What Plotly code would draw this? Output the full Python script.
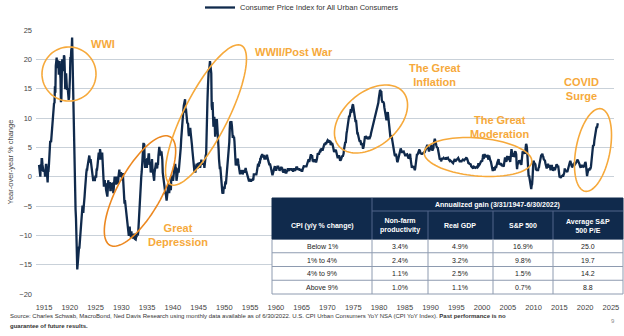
import math
import plotly.graph_objects as go

# ---------------- DATA (monthly CPI-U YoY %) ----------------
cpi_1914_1919 = [
    2.0, 1.0, 1.0, 0.0, 2.1, 1.0, 3.0, 3.0, 2.0, 1.0, 1.0, 1.0,
    1.0, 1.0, 0.0, 2.0, 2.0, 2.0, 1.0, -1.0, -1.0, 1.0, 1.0, 2.0,
    3.0, 4.0, 6.1, 6.0, 5.9, 6.9, 6.9, 7.9, 9.9, 10.8, 11.7, 12.6,
    12.5, 15.4, 14.3, 18.9, 19.6, 20.3, 18.5, 19.3, 19.8, 19.5, 17.4, 18.1,
    19.7, 17.9, 16.7, 12.7, 13.3, 17.5, 20.0, 18.5, 18.0, 18.5, 20.7, 20.4,
    17.9, 14.9, 17.1, 17.6, 16.5, 14.8, 15.0, 14.9, 13.5, 13.1, 13.5, 14.6,
]
cpi_1920s = [
    17.0, 20.4, 20.1, 21.6, 21.9, 23.7, 19.5, 14.7, 12.4, 9.9, 7.0, 2.6,
    -1.6, -5.6, -7.1, -10.8, -14.1, -15.8, -14.9, -12.8, -12.5, -12.1, -12.1, -10.8,
    -11.1, -8.2, -8.7, -7.7, -5.6, -5.1, -5.1, -6.2, -5.1, -4.6, -3.4, -2.3,
    -0.6, -0.6, 0.6, 1.2, 1.2, 1.8, 2.4, 3.0, 3.6, 3.6, 3.0, 2.4,
    3.0, 2.4, 1.8, 0.6, 0.6, 0.0, -0.6, -0.6, -0.6, -0.6, -0.6, 0.0,
    0.0, 0.0, 1.2, 1.2, 1.8, 2.9, 3.5, 4.1, 3.5, 2.9, 4.7, 3.5,
    3.5, 4.1, 2.9, 4.1, 2.9, 1.1, -1.1, -1.7, -1.1, -0.6, -1.7, -1.1,
    -2.2, -2.8, -2.8, -3.4, -2.2, -0.6, -1.1, -1.1, -1.1, -1.1, -2.3, -2.3,
    -1.1, -1.7, -1.2, -1.2, -1.1, -2.8, -1.2, -0.6, 0.0, -1.1, -0.6, -1.2,
    -1.2, 0.0, -0.6, -1.2, -1.2, 0.0, 1.2, 1.2, 0.0, 0.6, 0.6, 0.6,
]
cpi_1930s = [
    0.0, -0.6, -0.6, 0.6, -0.6, -1.8, -4.0, -4.6, -4.0, -4.6, -5.2, -6.4,
    -7.0, -7.6, -7.7, -8.8, -9.5, -10.1, -9.0, -8.5, -9.6, -9.7, -10.4, -9.3,
    -10.1, -10.2, -10.3, -10.3, -10.5, -9.9, -9.9, -10.6, -10.7, -10.7, -10.2, -10.3,
    -9.8, -9.9, -10.0, -9.4, -8.0, -6.6, -3.7, -2.2, -1.5, -0.8, 0.0, 0.8,
    2.3, 4.7, 5.6, 5.6, 5.6, 5.5, 2.3, 1.5, 3.0, 2.3, 2.3, 1.5,
    3.0, 3.0, 3.0, 3.8, 3.8, 2.2, 2.2, 2.2, 0.7, 1.5, 2.2, 3.0,
    1.5, 0.7, 0.0, -0.7, -0.7, 0.7, 1.5, 2.2, 2.2, 2.2, 1.4, 1.4,
    2.2, 2.2, 3.6, 4.4, 5.1, 4.3, 4.3, 3.6, 4.3, 4.3, 3.6, 2.9,
    0.7, 0.0, -0.7, -0.7, -2.1, -2.1, -2.8, -2.8, -3.4, -4.1, -3.4, -2.8,
    -1.4, -1.4, -1.4, -2.8, -2.1, -2.1, -2.1, -2.1, 0.0, 0.0, 0.0, 0.0,
]
cpi_1940s = [
    -0.7, 0.7, 0.7, 1.4, 1.4, 2.2, 1.4, 1.4, -0.7, 0.0, 0.0, 0.7,
    1.4, 0.7, 1.4, 2.1, 2.9, 4.3, 5.0, 6.4, 7.9, 9.3, 9.3, 9.9,
    11.3, 12.1, 12.7, 12.6, 13.2, 10.9, 11.6, 10.8, 9.2, 9.2, 9.1, 9.0,
    7.6, 6.9, 7.6, 8.3, 8.3, 7.5, 6.1, 5.4, 5.4, 4.5, 3.7, 3.0,
    2.2, 1.5, 0.7, 1.5, 0.7, 1.5, 2.2, 2.2, 1.5, 1.5, 2.2, 2.2,
    2.2, 2.2, 2.3, 1.5, 2.2, 2.9, 2.9, 2.2, 2.2, 2.2, 2.2, 2.2,
    2.2, 1.5, 2.9, 3.6, 3.6, 3.6, 9.3, 11.6, 12.7, 14.9, 17.7, 18.1,
    18.1, 18.8, 19.7, 19.0, 18.4, 17.6, 12.1, 11.4, 12.7, 10.6, 8.5, 8.8,
    10.2, 9.3, 6.8, 8.7, 9.1, 9.4, 9.8, 8.9, 6.5, 6.1, 4.8, 3.0,
    1.3, 1.3, 1.7, 0.4, -0.4, -0.8, -2.9, -2.9, -2.5, -2.9, -1.7, -2.1,
]
cpi_1950s = [
    -2.1, -1.3, -0.8, -1.3, -0.4, -0.4, 1.7, 2.1, 2.1, 3.8, 3.8, 5.9,
    8.1, 9.4, 9.3, 9.3, 9.3, 8.7, 7.5, 6.6, 7.0, 6.7, 6.8, 6.0,
    4.3, 2.3, 1.9, 2.3, 1.9, 2.3, 3.1, 3.1, 2.3, 1.9, 1.1, 0.8,
    0.4, 0.8, 1.1, 0.8, 1.1, 1.1, 0.4, 0.8, 0.8, 1.1, 0.8, 0.8,
    1.1, 1.5, 1.1, 0.8, 0.8, 0.4, 0.4, 0.0, -0.4, -0.8, -0.4, -0.7,
    -0.7, -0.7, -0.7, -0.4, -0.7, -0.7, -0.4, -0.4, 0.4, 0.4, 0.4, 0.4,
    0.4, 0.4, 0.4, 0.8, 1.1, 1.9, 2.2, 1.9, 1.9, 2.6, 2.2, 3.0,
    3.0, 3.4, 3.7, 3.7, 3.7, 3.3, 3.3, 3.7, 3.3, 2.9, 3.3, 2.9,
    3.6, 3.2, 3.6, 3.6, 3.2, 2.8, 2.4, 2.1, 2.1, 2.1, 2.1, 1.8,
    1.4, 1.1, 0.4, 0.4, 0.4, 0.7, 0.7, 1.1, 1.4, 1.8, 1.4, 1.7,
]
cpi_1960s = [
    1.0, 1.7, 1.4, 1.7, 1.7, 1.7, 1.4, 1.4, 1.0, 1.4, 1.4, 1.4,
    1.7, 1.4, 1.4, 1.0, 0.7, 0.7, 1.3, 1.0, 1.3, 0.7, 0.7, 0.7,
    0.7, 1.0, 1.0, 1.3, 1.3, 1.3, 1.0, 1.3, 1.3, 1.3, 1.3, 1.3,
    1.3, 1.0, 1.3, 1.0, 1.0, 1.3, 1.3, 1.3, 1.0, 1.3, 1.3, 1.6,
    1.6, 1.6, 1.3, 1.3, 1.3, 1.3, 1.3, 1.0, 1.3, 1.0, 1.3, 1.0,
    1.0, 1.0, 1.3, 1.6, 1.6, 1.9, 1.6, 1.9, 1.6, 1.9, 1.6, 1.9,
    1.9, 2.5, 2.5, 2.8, 2.8, 2.5, 2.8, 3.5, 3.5, 3.8, 3.5, 3.5,
    3.5, 2.8, 2.8, 2.5, 2.8, 2.8, 2.8, 2.5, 2.8, 2.4, 2.7, 3.0,
    3.7, 4.0, 3.9, 3.9, 3.9, 4.2, 4.5, 4.5, 4.4, 4.7, 4.7, 4.7,
    4.4, 4.7, 5.2, 5.5, 5.5, 5.5, 5.4, 5.7, 5.7, 5.7, 5.9, 6.2,
]
cpi_1970s = [
    6.2, 6.1, 5.8, 6.1, 6.1, 6.0, 6.0, 5.4, 5.7, 5.7, 5.6, 5.6,
    5.3, 5.0, 4.7, 4.2, 4.4, 4.6, 4.4, 4.6, 4.1, 3.8, 3.3, 3.3,
    3.3, 3.5, 3.5, 3.5, 3.2, 2.7, 2.9, 2.9, 3.2, 3.4, 3.6, 3.4,
    3.6, 3.9, 4.6, 5.1, 5.5, 5.9, 5.7, 7.4, 7.4, 7.8, 8.3, 8.7,
    9.4, 10.0, 10.4, 10.1, 10.7, 10.9, 11.5, 10.9, 11.9, 12.1, 12.2, 12.3,
    11.8, 11.2, 10.3, 10.2, 9.5, 9.3, 9.7, 8.6, 7.9, 7.4, 7.4, 6.9,
    6.7, 6.3, 6.1, 6.0, 6.2, 5.9, 5.4, 5.7, 5.5, 5.5, 4.9, 4.9,
    5.2, 6.0, 6.4, 6.9, 6.7, 6.9, 6.8, 6.6, 6.6, 6.4, 6.7, 6.7,
    6.8, 6.4, 6.6, 6.5, 7.0, 7.4, 7.7, 7.8, 8.3, 8.9, 8.9, 9.0,
    9.3, 9.9, 10.1, 10.5, 10.9, 10.9, 11.3, 11.8, 12.2, 12.1, 12.6, 13.3,
]
cpi_1980s = [
    13.9, 14.2, 14.8, 14.7, 14.4, 14.4, 13.1, 12.9, 12.6, 12.8, 12.6, 12.5,
    11.8, 11.4, 10.5, 10.0, 9.8, 9.6, 10.8, 10.8, 11.0, 10.1, 9.6, 8.9,
    8.4, 7.6, 6.8, 6.5, 6.7, 7.1, 6.4, 5.9, 5.0, 5.1, 4.6, 3.8,
    3.7, 3.5, 3.6, 3.9, 3.5, 2.6, 2.5, 2.6, 2.9, 2.9, 3.3, 3.8,
    4.2, 4.6, 4.8, 4.6, 4.2, 4.2, 4.2, 4.3, 4.3, 4.3, 4.1, 3.9,
    3.5, 3.5, 3.7, 3.7, 3.8, 3.8, 3.6, 3.3, 3.1, 3.2, 3.5, 3.8,
    3.9, 3.1, 2.2, 1.6, 1.5, 1.8, 1.6, 1.6, 1.8, 1.5, 1.3, 1.1,
    1.5, 2.1, 3.0, 3.8, 3.9, 3.7, 3.9, 4.3, 4.4, 4.5, 4.5, 4.4,
    4.0, 3.9, 3.9, 3.9, 3.9, 4.0, 4.1, 4.0, 4.2, 4.2, 4.2, 4.4,
    4.7, 4.8, 5.0, 5.1, 5.4, 5.2, 5.0, 4.7, 4.3, 4.5, 4.7, 4.6,
]
cpi_1990s = [
    5.2, 5.3, 5.2, 4.7, 4.4, 4.7, 4.8, 5.6, 6.2, 6.3, 6.3, 6.1,
    5.7, 5.3, 4.9, 4.9, 5.0, 4.7, 4.4, 3.8, 3.4, 2.9, 3.0, 3.1,
    2.6, 2.8, 3.2, 3.2, 3.0, 3.1, 3.2, 3.1, 3.0, 3.2, 3.1, 2.9,
    3.3, 3.2, 3.1, 3.2, 3.2, 3.0, 2.8, 2.8, 2.7, 2.8, 2.7, 2.7,
    2.5, 2.5, 2.5, 2.4, 2.3, 2.5, 2.8, 2.9, 3.0, 2.6, 2.7, 2.7,
    2.8, 2.9, 2.9, 3.1, 3.2, 3.0, 2.8, 2.6, 2.5, 2.8, 2.6, 2.5,
    2.7, 2.7, 2.8, 2.9, 2.9, 2.8, 3.0, 2.9, 3.0, 3.0, 3.3, 3.3,
    3.0, 3.0, 2.8, 2.5, 2.2, 2.3, 2.2, 2.2, 2.2, 2.1, 1.8, 1.7,
    1.6, 1.4, 1.4, 1.4, 1.7, 1.7, 1.7, 1.6, 1.5, 1.5, 1.5, 1.6,
    1.7, 1.6, 1.7, 2.3, 2.1, 2.0, 2.1, 2.3, 2.6, 2.6, 2.6, 2.7,
]
cpi_2000s = [
    2.7, 3.2, 3.8, 3.1, 3.2, 3.7, 3.7, 3.4, 3.5, 3.4, 3.4, 3.4,
    3.7, 3.5, 2.9, 3.3, 3.6, 3.2, 2.7, 2.7, 2.6, 2.1, 1.9, 1.6,
    1.1, 1.1, 1.5, 1.6, 1.2, 1.1, 1.5, 1.8, 1.5, 2.0, 2.2, 2.4,
    2.6, 3.0, 3.0, 2.2, 2.1, 2.1, 2.1, 2.2, 2.3, 2.0, 1.8, 1.9,
    1.9, 1.7, 1.7, 2.3, 3.1, 3.3, 3.0, 2.7, 2.5, 3.2, 3.5, 3.3,
    3.0, 3.0, 3.1, 3.5, 2.8, 2.5, 3.2, 3.6, 4.7, 4.3, 3.5, 3.4,
    4.0, 3.6, 3.4, 3.5, 4.2, 4.3, 4.1, 3.8, 2.1, 1.3, 2.0, 2.5,
    2.1, 2.4, 2.8, 2.6, 2.7, 2.7, 2.4, 2.0, 2.8, 3.5, 4.3, 4.1,
    4.3, 4.0, 4.0, 3.9, 4.2, 5.0, 5.6, 5.4, 4.9, 3.7, 1.1, 0.1,
    0.0, 0.2, -0.4, -0.7, -1.3, -1.4, -2.1, -1.5, -1.3, -0.2, 1.8, 2.7,
]
cpi_2010s = [
    2.6, 2.1, 2.3, 2.2, 2.0, 1.1, 1.2, 1.1, 1.1, 1.2, 1.1, 1.5,
    1.6, 2.1, 2.7, 3.2, 3.6, 3.6, 3.6, 3.8, 3.9, 3.5, 3.4, 3.0,
    2.9, 2.9, 2.7, 2.3, 1.7, 1.7, 1.4, 1.7, 2.0, 2.2, 1.8, 1.7,
    1.6, 2.0, 1.5, 1.1, 1.4, 1.8, 2.0, 1.5, 1.2, 1.0, 1.2, 1.5,
    1.6, 1.1, 1.5, 2.0, 2.1, 2.1, 2.0, 1.7, 1.7, 1.7, 1.3, 0.8,
    -0.1, 0.0, -0.1, -0.2, 0.0, 0.1, 0.2, 0.2, 0.0, 0.2, 0.5, 0.7,
    1.4, 1.0, 0.9, 1.1, 1.0, 1.0, 0.8, 1.1, 1.5, 1.6, 1.7, 2.1,
    2.5, 2.7, 2.4, 2.2, 1.9, 1.6, 1.7, 1.9, 2.2, 2.0, 2.2, 2.1,
    2.1, 2.2, 2.4, 2.5, 2.8, 2.9, 2.9, 2.7, 2.3, 2.5, 2.2, 1.9,
    1.6, 1.5, 1.9, 2.0, 1.8, 1.6, 1.8, 1.7, 1.7, 1.8, 2.1, 2.3,
]
cpi_2020_2022 = [
    2.5, 2.3, 1.5, 0.3, 0.1, 0.6, 1.0, 1.3, 1.4, 1.2, 1.2, 1.4,
    1.4, 1.7, 2.6, 4.2, 5.0, 5.4, 5.4, 5.3, 5.4, 6.2, 6.8, 7.0,
    7.5, 7.9, 8.5, 8.3, 8.6, 9.1,
]
start_year = 1914

x_ticks = list(range(1915, 2030, 5))

table_cpi_bands = ["Below 1%", "1% to 4%", "4% to 9%", "Above 9%"]
table_productivity = ["3.4%", "2.4%", "1.1%", "1.0%"]
table_real_gdp = ["4.9%", "3.2%", "2.5%", "1.1%"]
table_sp500 = ["16.9%", "9.8%", "1.5%", "0.7%"]
table_avg_pe = ["25.0", "19.7", "14.2", "8.8"]
table_headers = ["CPI (y/y % change)", "Non-farm<br>productivity", "Real GDP",
                 "S&P 500", "Average S&P<br>500 P/E"]
table_group_header = "Annualized gain (3/31/1947-6/30/2022)"

# ---------------- BUILD ----------------
cpi_yoy = (cpi_1914_1919 + cpi_1920s + cpi_1930s + cpi_1940s + cpi_1950s +
           cpi_1960s + cpi_1970s + cpi_1980s + cpi_1990s + cpi_2000s +
           cpi_2010s + cpi_2020_2022)
x_time = [start_year + (i + 0.5) / 12 for i in range(len(cpi_yoy))]

W, H = 624, 336
ML, MR, MT, MB = 36, 1, 30, 38
PW, PH = W - ML - MR, H - MT - MB
PLOT_R, PLOT_B = 614, 294
FONT = "Liberation Sans, Arial, sans-serif"
NAVY = "#102a4c"
ORANGE = "#F6A93B"
ORANGE_DK = "#EC8820"
SEP = "#50648a"
CELL_LINE = "#8e9bb0"


def fx(px):
    return (px - ML) / PW


def fy(py):
    return (H - MB - py) / PH


def ellipse_path(cx, cy, a, b, deg, n=90):
    th = math.radians(deg)
    pts = []
    for k in range(n):
        t = 2 * math.pi * k / n
        px = cx + a * math.cos(t) * math.cos(th) - b * math.sin(t) * math.sin(th)
        py = cy - (a * math.cos(t) * math.sin(th) + b * math.sin(t) * math.cos(th))
        pts.append(f"{fx(px):.5f},{fy(py):.5f}")
    return "M " + " L ".join(pts) + " Z"


fig = go.Figure()
fig.add_trace(go.Scatter(
    x=x_time, y=cpi_yoy, mode="lines",
    name="Consumer Price Index for All Urban Consumers",
    line=dict(color=NAVY, width=2.3),
))

shapes = []
annotations = []


def rect(x0, y0, x1, y1, fill, line_col, lw):
    shapes.append(dict(type="rect", xref="paper", yref="paper",
                       x0=fx(x0), x1=fx(x1), y0=fy(y1), y1=fy(y0),
                       fillcolor=fill, line=dict(color=line_col, width=lw)))


def seg(x0, y0, x1, y1, col, lw=1):
    shapes.append(dict(type="line", xref="paper", yref="paper",
                       x0=fx(x0), x1=fx(x1), y0=fy(y0), y1=fy(y1),
                       line=dict(color=col, width=lw)))


def text(t, px, py, size, col, bold=False, xanchor="center"):
    annotations.append(dict(text=("<b>" + t + "</b>") if bold else t,
                            x=fx(px), y=fy(py), xref="paper", yref="paper",
                            showarrow=False, xanchor=xanchor, yanchor="middle",
                            align="center", font=dict(color=col, size=size, family=FONT)))


# ---- table (drawn with shapes + text) ----
TX = [272, 372, 428, 493, 553, 623]
T_TOP, T_MID, T_HDR = 198, 211, 239
T_BOT = 294
row_h = (T_BOT - T_HDR) / len(table_cpi_bands)

rect(TX[0], T_HDR, TX[-1], T_BOT, "white", CELL_LINE, 1)
rect(TX[0], T_TOP, TX[-1], T_HDR, NAVY, NAVY, 1)
seg(TX[1], T_MID, TX[-1], T_MID, SEP, 1)
seg(TX[1], T_TOP, TX[1], T_HDR, SEP, 1)
for xv in TX[2:-1]:
    seg(xv, T_MID, xv, T_HDR, SEP, 1)
for i in range(1, len(table_cpi_bands)):
    yv = T_HDR + i * row_h
    seg(TX[0], yv, TX[-1], yv, CELL_LINE, 1)
for xv in TX[1:-1]:
    seg(xv, T_HDR, xv, T_BOT, CELL_LINE, 1)

text(table_group_header, (TX[1] + TX[-1]) / 2, (T_TOP + T_MID) / 2 + 0.5, 7, "white", True)
for j, h in enumerate(table_headers):
    text(h, (TX[j] + TX[j + 1]) / 2, (T_MID + T_HDR) / 2 + 0.5, 7, "white", True)
columns = [table_cpi_bands, table_productivity, table_real_gdp, table_sp500, table_avg_pe]
for j, col in enumerate(columns):
    for i, v in enumerate(col):
        text(v, (TX[j] + TX[j + 1]) / 2, T_HDR + (i + 0.5) * row_h + 0.5, 7, "#222222")

# ---- ellipses ----
for cx, cy, a, b, deg, col in [
    (69, 74, 27, 27, 0, ORANGE),
    (140, 191, 62, 22, 61, ORANGE_DK),
    (206, 115, 78, 22, 63, ORANGE),
    (371, 119, 42, 27, 40, ORANGE),
    (478, 157, 54, 19, -5, ORANGE),
    (593, 150, 42, 17, 79, ORANGE),
]:
    shapes.append(dict(type="path", xref="paper", yref="paper",
                       path=ellipse_path(cx, cy, a, b, deg),
                       line=dict(color=col, width=1.6)))

# ---- era labels ----
for txt, px, py in [
    ("WWI", 103, 44),
    ("WWII/Post War", 294, 52),
    ("The Great<br>Inflation", 435, 75),
    ("The Great<br>Moderation", 500, 127),
    ("COVID<br>Surge", 581, 89.5),
    ("Great<br>Depression", 178, 234.5),
]:
    text(txt, px, py, 11, ORANGE, True)

# ---- footer ----
text("Source: Charles Schwab, MacroBond, Ned Davis Research using monthly data "
     "available as of 6/30/2022. U.S. CPI Urban Consumers YoY NSA (CPI YoY Index). "
     "<b>Past performance is no</b>", 8, 316, 6, "#333333", xanchor="left")
text("guarantee of future results.", 8, 326, 6, "#333333", True, xanchor="left")
text("9", 613, 321, 6, "#888888")

fig.update_layout(
    width=W, height=H,
    margin=dict(l=ML, r=MR, t=MT, b=MB, autoexpand=False),
    paper_bgcolor="white", plot_bgcolor="white",
    font=dict(family=FONT, size=7.5, color="#444444"),
    showlegend=True,
    legend=dict(orientation="h", x=fx(200), xanchor="left", y=fy(-7), yanchor="top",
                font=dict(size=7.5, color="#333333"), bgcolor="rgba(0,0,0,0)"),
    xaxis=dict(domain=[0, (PLOT_R - ML) / PW], range=[1913.45, 2025.6],
               tickvals=x_ticks, showgrid=False, zeroline=False, showline=False,
               ticks="", ticklabelstandoff=7,
               tickfont=dict(size=7.5, color="#444444")),
    yaxis=dict(domain=[fy(PLOT_B), 1], range=[-20, 25], dtick=5,
               showgrid=True, gridcolor="#c9d1d9", gridwidth=1.2,
               zeroline=False, showline=False, ticks="", ticklabelstandoff=3,
               tickfont=dict(size=7.5, color="#444444"),
               title=dict(text="Year-over-year % change", standoff=4,
                          font=dict(size=7.5, color="#444444"))),
    shapes=shapes,
    annotations=annotations,
)

fig.write_html("out.html")
